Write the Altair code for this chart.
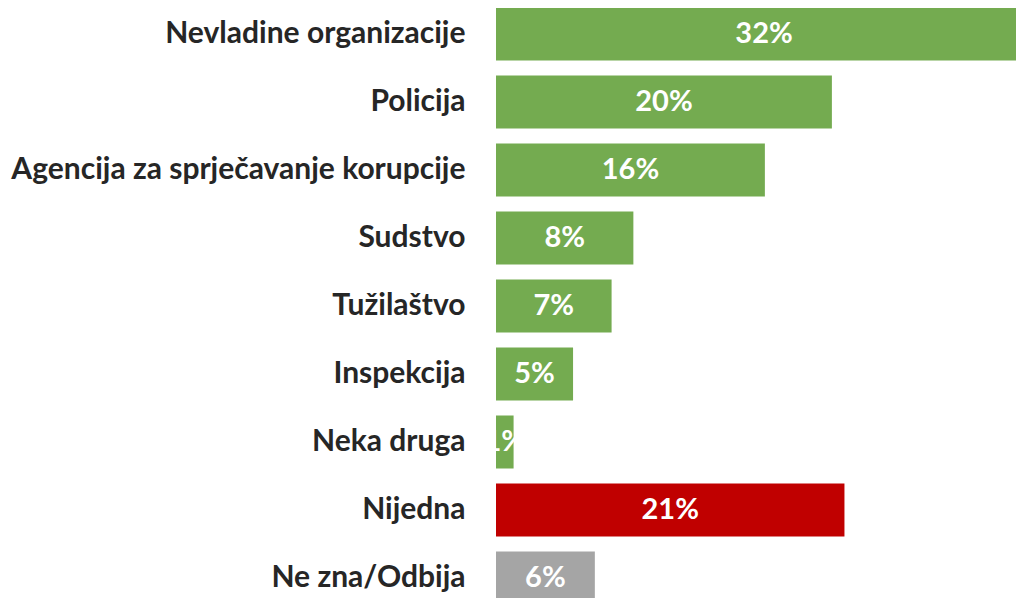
import altair as alt
import pandas as pd

categories = [
    "Nevladine organizacije",
    "Policija",
    "Agencija za sprječavanje korupcije",
    "Sudstvo",
    "Tužilaštvo",
    "Inspekcija",
    "Neka druga",
    "Nijedna",
    "Ne zna/Odbija",
]
values = [32.0, 20.05, 16.05, 8.2, 6.9, 4.6, 1.05, 20.8, 5.9]
value_labels = ["32%", "20%", "16%", "8%", "7%", "5%", "1%", "21%", "6%"]
groups = ["inst", "inst", "inst", "inst", "inst", "inst", "inst", "none", "dk"]
group_domain = ["inst", "none", "dk"]
group_colors = ["#74AB50", "#C00000", "#A5A5A5"]

df = pd.DataFrame({
    "cat": categories,
    "value": values,
    "label": value_labels,
    "grp": groups,
})
df["mid"] = df["value"] / 2

FONT = "Lato"

y_enc = alt.Y(
    "cat:N",
    sort=categories,
    scale=alt.Scale(paddingInner=0.22, paddingOuter=0.11),
    axis=alt.Axis(
        title=None,
        domain=False,
        ticks=False,
        labelFont=FONT,
        labelFontWeight="bold",
        labelFontSize=30,
        labelColor="#262626",
        labelPadding=31,
        labelLimit=0,
    ),
)

x_scale = alt.Scale(domain=[0, 31.04], nice=False, zero=True)

bars = alt.Chart(df).mark_bar(clip=True).encode(
    y=y_enc,
    x=alt.X("value:Q", scale=x_scale, axis=None),
    color=alt.Color("grp:N", scale=alt.Scale(domain=group_domain, range=group_colors), legend=None),
)

text = alt.Chart(df).mark_text(
    font=FONT, fontWeight="bold", fontSize=29, color="white", align="center", baseline="middle"
).encode(
    y=alt.Y("cat:N", sort=categories),
    x=alt.X("mid:Q", scale=x_scale, axis=None),
    text="label:N",
)

chart = alt.layer(bars, text).properties(
    width=520,
    height=612,
    autosize=alt.AutoSizeParams(type="none"),
    padding={"left": 488, "top": -8, "right": 0, "bottom": -14},
).configure_view(stroke=None)

chart.save("out.html", embed_options={"renderer": "svg", "actions": False})
